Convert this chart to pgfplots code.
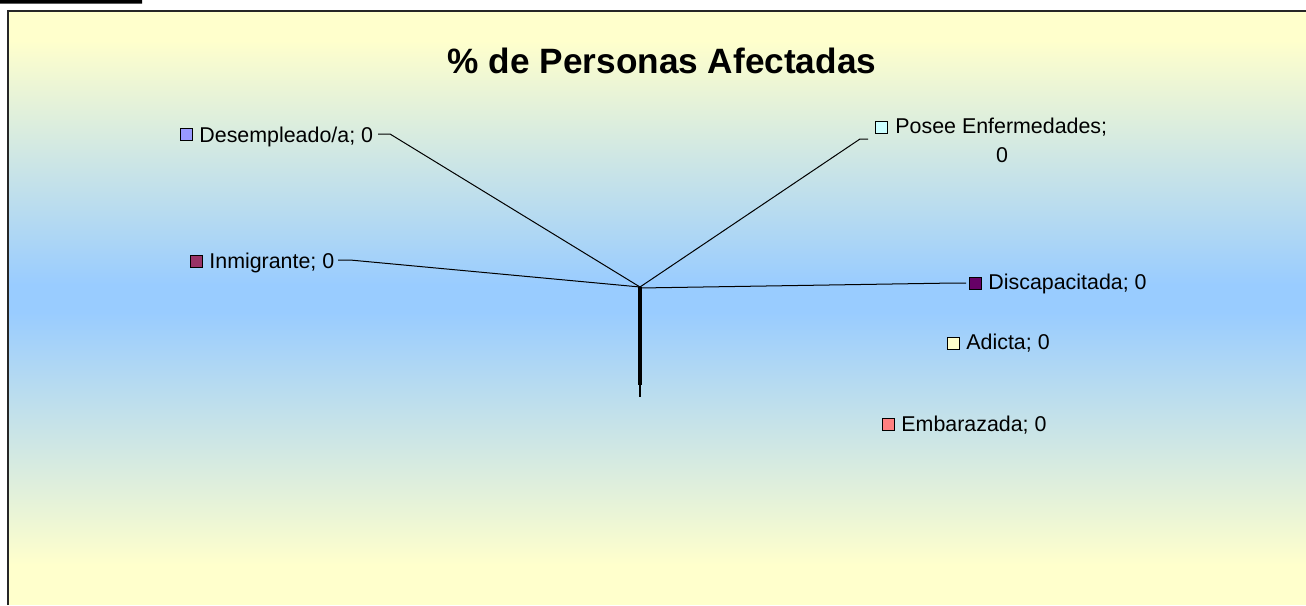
\documentclass[border=0pt]{standalone}
\usepackage{pgfplots}
\pgfplotsset{compat=1.18}
\usepackage{fontspec}
\setmainfont{Liberation Sans}
\definecolor{bgyellow}{RGB}{255,255,204}
\definecolor{bgblue}{RGB}{153,204,255}
\definecolor{cDes}{HTML}{9999FF}
\definecolor{cInm}{HTML}{993366}
\definecolor{cAdi}{HTML}{FFFFCC}
\definecolor{cPos}{HTML}{CCFFFF}
\definecolor{cDis}{HTML}{660066}
\definecolor{cEmb}{HTML}{FF8080}
\tikzset{lbl/.style={anchor=base west, inner sep=0pt, font=\fontsize{10.7}{12.8}\selectfont}}
\pgfplotsset{mk/.style={only marks, mark=square*, mark size=3pt, mark options={draw=black, line width=0.5pt, fill=#1}}}

\begin{document}
\begin{tikzpicture}
\begin{axis}[width=653pt, height=302.5pt, scale only axis,
    xmin=0, xmax=1306, ymin=0, ymax=605, y dir=reverse,
    hide axis, clip=true]
  % background
  \path[fill=bgyellow] (axis cs:8,11) rectangle (axis cs:1306,40);
  \path[top color=bgyellow, bottom color=bgblue] (axis cs:8,40) rectangle (axis cs:1306,285);
  \path[fill=bgblue] (axis cs:8,285) rectangle (axis cs:1306,312);
  \path[top color=bgblue, bottom color=bgyellow] (axis cs:8,312) rectangle (axis cs:1306,565);
  \path[fill=bgyellow] (axis cs:8,565) rectangle (axis cs:1306,605);
  \addplot[draw=black!85, line width=1pt] coordinates {(8,605) (8,11) (1306,11)};
  \addplot[fill=black, draw=none] coordinates {(0,0) (142,0) (142,3.5) (0,3.5)} \closedcycle;

  % leader lines (all slices are 0)
  \addplot[black, line width=0.5pt] coordinates {(378,134) (390,134) (640,287)};
  \addplot[black, line width=0.5pt] coordinates {(868,139) (860,139) (640,287)};
  \addplot[black, line width=0.5pt] coordinates {(338,260) (350,260) (640,287)};
  \addplot[black, line width=0.5pt] coordinates {(640,288) (955,283) (966,283)};
  \addplot[black, line width=1.6pt] coordinates {(640,287) (640,385)};
  \addplot[black, line width=0.6pt] coordinates {(640,385) (640,397)};

  % markers
  \addplot[mk=cDes] coordinates {(186,134.5)};
  \addplot[mk=cPos] coordinates {(881,127.5)};
  \addplot[mk=cInm] coordinates {(196,261.5)};
  \addplot[mk=cDis] coordinates {(975,283.5)};
  \addplot[mk=cAdi] coordinates {(953,343)};
  \addplot[mk=cEmb] coordinates {(888,424.5)};

  % labels
  \node[lbl] at (axis cs:199,142) {Desempleado/a; 0};
  \node[lbl] at (axis cs:895,133) {Posee Enfermedades;};
  \node[anchor=base, inner sep=0pt, font=\fontsize{10.7}{12.8}\selectfont] at (axis cs:1002,162) {0};
  \node[lbl] at (axis cs:209,268) {Inmigrante; 0};
  \node[lbl] at (axis cs:988,289) {Discapacitada; 0};
  \node[lbl] at (axis cs:966,349) {Adicta; 0};
  \node[lbl] at (axis cs:901,431) {Embarazada; 0};

  \node[anchor=base, inner sep=0pt, font=\fontsize{17.6}{21}\selectfont\bfseries] at (axis cs:662,73) {\% de Personas Afectadas};
\end{axis}
\end{tikzpicture}
\end{document}
